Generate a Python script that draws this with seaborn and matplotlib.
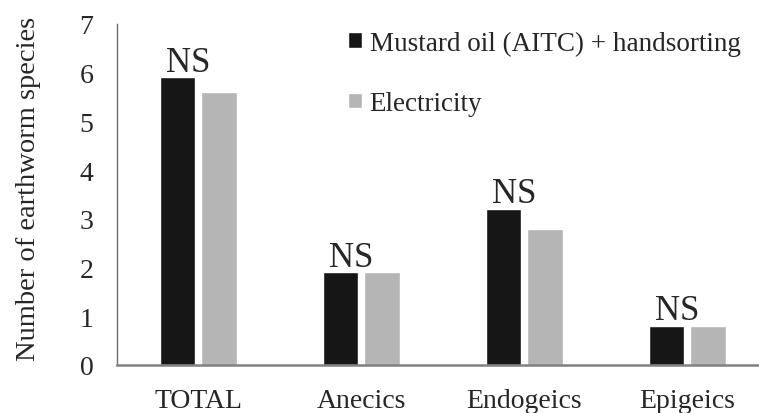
import matplotlib
matplotlib.use("Agg")
import matplotlib.pyplot as plt
import seaborn as sns
import pandas as pd

categories = ["TOTAL", "Anecics", "Endogeics", "Epigeics"]
methods = ["Mustard oil (AITC) + handsorting", "Electricity"]
mustard = [5.9, 1.9, 3.2, 0.8]
electricity = [5.6, 1.9, 2.8, 0.8]
ns_labels = ["NS", "NS", "NS", "NS"]

df = pd.DataFrame({
    "group": categories * 2,
    "method": [methods[0]] * 4 + [methods[1]] * 4,
    "value": mustard + electricity,
})

sns.set_style("white")
plt.rcParams["font.family"] = ["Liberation Serif", "DejaVu Serif"]

fig = plt.figure(figsize=(7.59, 4.14), dpi=100)
ax = fig.add_axes([0.154, 0.116, 0.846, 0.824])

sns.barplot(data=df, x="group", y="value", hue="method", order=categories,
            hue_order=methods, palette=["#161616", "#b5b5b5"],
            width=0.51, gap=0.14, saturation=1, ax=ax, legend=True)

ax.set_ylim(0, 7)
ax.set_xlim(-0.5, 3.44)
ax.set_yticks(range(0, 8))
ax.set_xlabel("")
ax.set_ylabel("Number of earthworm species", fontsize=20.5)
ax.yaxis.set_label_coords(-0.118, 0.52)
ax.tick_params(axis="y", labelsize=20, length=0, pad=17)
ax.tick_params(axis="x", labelsize=20, length=0, pad=16.5)

for side in ["top", "right"]:
    ax.spines[side].set_visible(False)
ax.spines["left"].set_color("#707070")
ax.spines["left"].set_linewidth(1.0)
ax.spines["bottom"].set_color("#808080")
ax.spines["bottom"].set_linewidth(1.8)

# NS labels over the taller bar of each pair
for i, lab in enumerate(ns_labels):
    top = max(mustard[i], electricity[i])
    ax.text(i - 0.06, top + 0.14, lab, ha="center", va="baseline", fontsize=25)

leg = ax.legend(loc="upper left", bbox_to_anchor=(0.36, 0.98), frameon=False,
                fontsize=19.5, handlelength=0.5, handleheight=0.5,
                handletextpad=0.3, labelspacing=1.3, borderpad=0,
                borderaxespad=0)

fig.savefig("out.png", dpi=100)
